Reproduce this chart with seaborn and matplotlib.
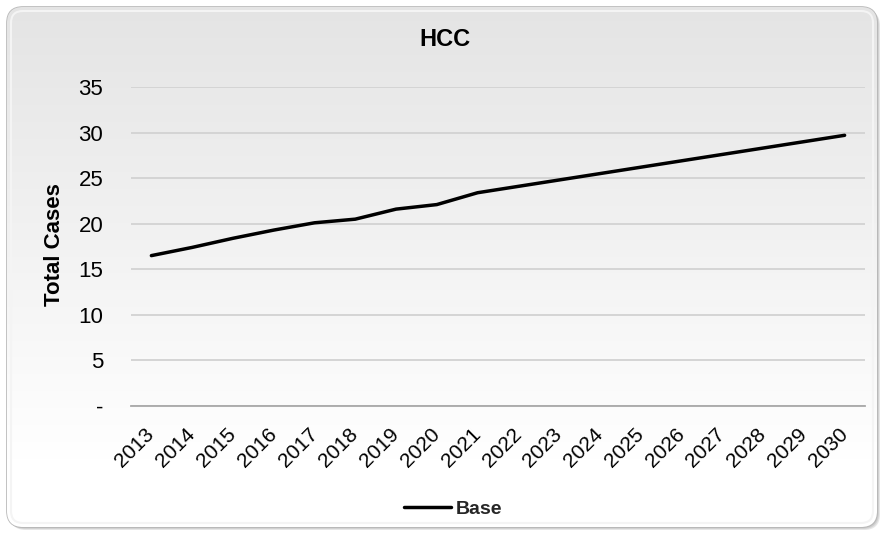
import numpy as np
import pandas as pd
import matplotlib
matplotlib.use("Agg")
import matplotlib.pyplot as plt
from matplotlib.patches import FancyBboxPatch
import seaborn as sns

# ---- data -------------------------------------------------------------
years = ["2013", "2014", "2015", "2016", "2017", "2018", "2019", "2020", "2021",
         "2022", "2023", "2024", "2025", "2026", "2027", "2028", "2029", "2030"]
base_cases = [16.5, 17.4, 18.4, 19.3, 20.1, 20.5, 21.6, 22.1, 23.4,
              24.1, 24.8, 25.5, 26.2, 26.9, 27.6, 28.3, 29.0, 29.7]
y_ticks = [0, 5, 10, 15, 20, 25, 30, 35]
y_tick_labels = ["-", "5", "10", "15", "20", "25", "30", "35"]
series_name = "Base"
title = "HCC"
y_title = "Total Cases"

df = pd.DataFrame({"Year": years, "Cases": base_cases, "Scenario": series_name})

# ---- figure -----------------------------------------------------------
sns.set_theme(style="white")
plt.rcParams["font.family"] = ["Liberation Sans", "DejaVu Sans"]

W, H = 881, 533
fig = plt.figure(figsize=(W / 100, H / 100), dpi=100)
fig.patch.set_facecolor("white")

# chart-area panel: rounded frame with soft shadow and a vertical gradient
bg = fig.add_axes([0, 0, 1, 1], zorder=-10)
bg.set_xlim(0, W)
bg.set_ylim(H, 0)
bg.axis("off")

x0, y0, x1, y1 = 7, 7, 877, 527
for off, col, a in [(3, "#d6d6d6", 0.6), (2, "#c4c4c4", 0.6), (1, "#b4b4b4", 0.6)]:
    bg.add_patch(FancyBboxPatch((x0 + off, y0 + off), x1 - x0, y1 - y0,
                                boxstyle="round,pad=0,rounding_size=16",
                                facecolor=col, edgecolor="none", alpha=a))
frame = FancyBboxPatch((x0, y0), x1 - x0, y1 - y0,
                       boxstyle="round,pad=0,rounding_size=16",
                       facecolor="white", edgecolor="#b8b8b8", linewidth=1.2)
bg.add_patch(frame)
grad = np.linspace(0, 1, 256).reshape(-1, 1)
top_c = np.array([0.895, 0.895, 0.895])
bot_c = np.array([1.0, 1.0, 1.0])
img = top_c + (bot_c - top_c) * np.clip(grad * 1.15, 0, 1)[..., None]
im = bg.imshow(np.repeat(img, 2, axis=1), extent=(x0, x1, y1, y0),
               aspect="auto", interpolation="bilinear", zorder=1)
im.set_clip_path(frame)
inner = FancyBboxPatch((x0 + 4, y0 + 4), x1 - x0 - 8, y1 - y0 - 8,
                       boxstyle="round,pad=0,rounding_size=12",
                       facecolor="none", edgecolor="#f4f4f4", linewidth=1.5, zorder=2)
bg.add_patch(inner)

# ---- plot area --------------------------------------------------------
ax_l, ax_r, ax_t, ax_b = 131, 865, 87, 406
ax = fig.add_axes([ax_l / W, 1 - ax_b / H, (ax_r - ax_l) / W, (ax_b - ax_t) / H])
ax.set_facecolor("none")

sns.lineplot(data=df, x="Year", y="Cases", hue="Scenario", palette=["black"],
             linewidth=2.5, ax=ax, legend=False, sort=False)
for ln in ax.lines:
    ln.set_solid_capstyle("round")
    ln.set_solid_joinstyle("round")

ax.set_xlim(-0.5, len(years) - 0.5)
ax.set_ylim(y_ticks[0], y_ticks[-1])
ax.set_yticks(y_ticks, y_tick_labels)
ax.yaxis.grid(True, color="#d2d2d2", linewidth=1.3)
ax.set_axisbelow(True)

for side in ["left", "right", "top"]:
    ax.spines[side].set_visible(False)
ax.spines["bottom"].set_color("#a8a8a8")
ax.spines["bottom"].set_linewidth(1.3)

ax.set_xticks(range(len(years)), years)
ax.set_xticks(np.arange(-0.5, len(years), 1.0), minor=True)
ax.tick_params(axis="x", which="major", length=0, pad=18, labelsize=15,
               labelcolor="black")
ax.tick_params(axis="x", which="minor", length=7, width=1.3, color="#a8a8a8",
               direction="out")
ax.tick_params(axis="y", length=0, pad=20, labelsize=16, labelcolor="black")
for lab in ax.get_xticklabels():
    lab.set_rotation(45)
    lab.set_ha("right")
    lab.set_va("center")
    lab.set_rotation_mode("anchor")

ax.set_xlabel("")
ax.set_ylabel("")

# titles
fig.text(445 / W, 1 - 40 / H, title, ha="center", va="center",
         fontsize=17, fontweight="bold", color="black")
fig.text(54 / W, 1 - 245 / H, y_title, ha="center", va="center", rotation=90,
         fontsize=16, fontweight="bold", color="black")

# legend
handle = plt.Line2D([], [], color="black", linewidth=2.5)
fig.legend([handle], [series_name], loc="center",
           bbox_to_anchor=(453 / W, 1 - 509 / H), frameon=False,
           prop={"weight": "bold", "size": 14}, handlelength=2.4,
           handletextpad=0.25)

fig.savefig("out.png", dpi=100)
